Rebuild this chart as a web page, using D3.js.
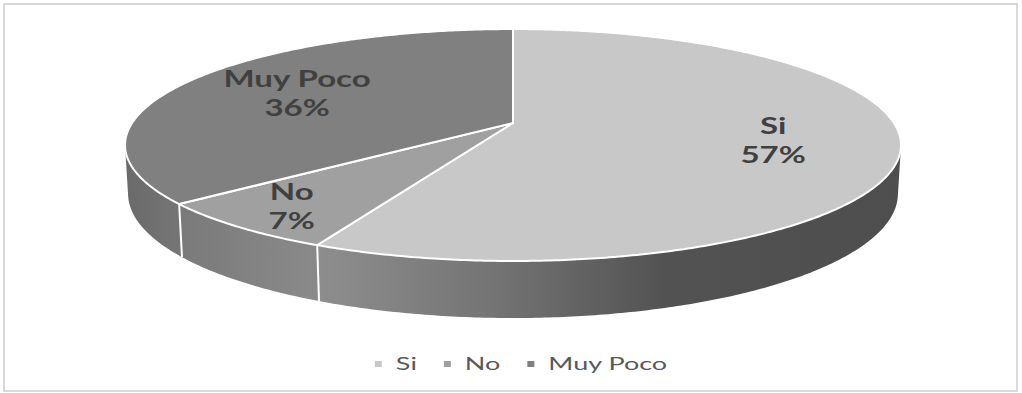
<!DOCTYPE html>
<html>
<head>
<meta charset="utf-8">
<script src="https://cdn.jsdelivr.net/npm/d3@7"></script>
<style>
  html, body { margin: 0; padding: 0; background: #fff; }
  svg { display: block; }
</style>
</head>
<body>
<svg id="chart" width="1022" height="393"></svg>
<script>
// ---- data ----
const categories = ["Si", "No", "Muy Poco"];
const values = [57, 7, 36];

// ---- styles ----
const faceColors = ["#c8c8c8", "#a0a0a0", "#808080"];
const sideStops = [
  [[0, "#8e8e8e"], [0.3, "#747474"], [0.6, "#525252"], [1, "#4e4e4e"]],
  [[0, "#7a7a7a"], [1, "#8a8a8a"]],
  [[0, "#6a6a6a"], [1, "#767676"]]
];
const labelRadius = [0.68, 0.83, 0.66];
const textStretch = 1.5;
const labelColor = "#404040";
const legendColor = "#595959";

// ---- perspective camera for the tilted disc ----
const cam = { cx: 513, cy: 123, f: 1919, D: 5.038, phi: Math.asin(0.2935), thick: 0.131 };
const sinP = Math.sin(cam.phi), cosP = Math.cos(cam.phi);
function project(r, theta, y) {
  const X = r * Math.sin(theta), Z = r * Math.cos(theta);
  const d = cam.D + Z * cosP - y * sinP;
  return [cam.cx + cam.f * X / d, cam.cy - cam.f * (y * cosP + Z * sinP) / d];
}
function arcPoints(a0, a1, y) {
  const n = Math.max(2, Math.ceil(Math.abs(a1 - a0) / 0.01));
  return d3.range(n + 1).map(i => project(1, a0 + (a1 - a0) * i / n, y));
}
// wall faces the camera where cos(theta) < -1/(D cos(phi))
const visMin = Math.acos(-1 / (cam.D * cosP));
const visMax = 2 * Math.PI - visMin;

const svg = d3.select("#chart");
const defs = svg.append("defs");
const line = d3.line();

// chart frame
svg.append("rect")
  .attr("x", 4).attr("y", 4).attr("width", 1013).attr("height", 387)
  .attr("fill", "#fff").attr("stroke", "#d9d9d9").attr("stroke-width", 2);

const arcs = d3.pie().sort(null).value(d => d)(values);

// ---- side walls ----
const sides = svg.append("g");
arcs.forEach((a, i) => {
  const t0 = Math.max(a.startAngle, visMin), t1 = Math.min(a.endAngle, visMax);
  if (t1 <= t0) return;
  const top = arcPoints(t0, t1, 0);
  const bottom = arcPoints(t1, t0, -cam.thick);
  const xs = top.concat(bottom).map(p => p[0]);
  const gid = "side" + i;
  const g = defs.append("linearGradient").attr("id", gid)
    .attr("gradientUnits", "userSpaceOnUse")
    .attr("x1", d3.min(xs)).attr("x2", d3.max(xs)).attr("y1", 0).attr("y2", 0);
  sideStops[i].forEach(s => g.append("stop").attr("offset", s[0]).attr("stop-color", s[1]));
  sides.append("path")
    .attr("d", line(top.concat(bottom)) + "Z")
    .attr("fill", `url(#${gid})`);
});
// white seams where the walls of neighbouring slices meet
arcs.forEach(a => {
  const t = a.endAngle;
  if (t > visMin && t < visMax) {
    const p0 = project(1, t, 0), p1 = project(1, t, -cam.thick);
    sides.append("line")
      .attr("x1", p0[0]).attr("y1", p0[1]).attr("x2", p1[0]).attr("y2", p1[1])
      .attr("stroke", "#fff").attr("stroke-width", 2);
  }
});

// ---- top faces ----
const centre = project(0, 0, 0);
svg.append("g").selectAll("path").data(arcs).join("path")
  .attr("d", a => line([centre].concat(arcPoints(a.startAngle, a.endAngle, 0))) + "Z")
  .attr("fill", (a, i) => faceColors[i])
  .attr("stroke", "#fff").attr("stroke-width", 2).attr("stroke-linejoin", "round");

// ---- data labels ----
const labels = svg.append("g")
  .attr("font-family", "Lato, 'Open Sans', sans-serif")
  .attr("font-weight", "bold").attr("font-size", 22)
  .attr("fill", labelColor).attr("text-anchor", "middle");
arcs.forEach((a, i) => {
  const mid = (a.startAngle + a.endAngle) / 2;
  const [x, y] = project(labelRadius[i], mid, 0);
  const g = labels.append("g").attr("transform", `translate(${x},${y - 6.5}) scale(${textStretch},1)`);
  g.append("text").attr("x", 0).attr("y", 0).text(categories[i]);
  g.append("text").attr("x", 0).attr("y", 29).text(`${values[i]}%`);
});

// ---- legend ----
const legend = svg.append("g")
  .attr("font-family", "Lato, 'Open Sans', sans-serif")
  .attr("font-size", 18).attr("fill", legendColor);
const items = categories.map((c, i) => {
  const g = legend.append("g");
  g.append("rect").attr("x", 0).attr("y", 361).attr("width", 7).attr("height", 6).attr("fill", faceColors[i]);
  const t = g.append("text").attr("transform", `translate(21,370) scale(${textStretch},1)`).text(c);
  return { g, w: 21 + t.node().getComputedTextLength() * textStretch };
});
const gap = 27;
const total = d3.sum(items, d => d.w) + gap * (items.length - 1);
let lx = 521 - total / 2;
items.forEach(it => { it.g.attr("transform", `translate(${lx},0)`); lx += it.w + gap; });
</script>
</body>
</html>
